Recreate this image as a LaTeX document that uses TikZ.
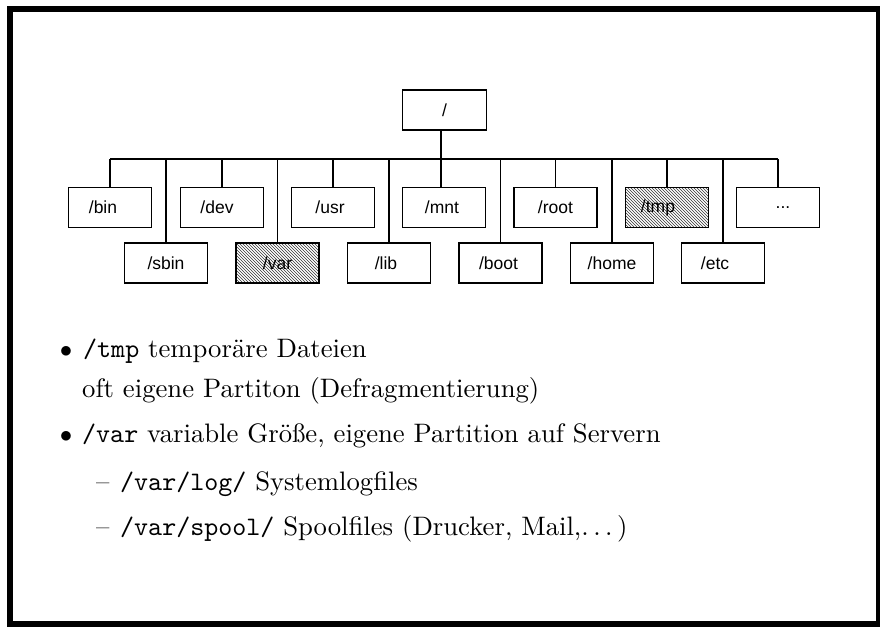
\documentclass[tikz,border=0pt]{standalone}
\usepackage{fontspec}
% 10pt design size of Latin Modern, scaled up
\setmainfont{lmroman10}[Extension=.otf, UprightFont=*-regular, BoldFont=*-bold,
  ItalicFont=*-italic, BoldItalicFont=*-bolditalic]
\setmonofont{lmmono10}[Extension=.otf, UprightFont=*-regular, ItalicFont=*-italic]
\newfontfamily\boxfont{Liberation Sans}
\usetikzlibrary{patterns}
% shift a box label sideways without changing its width
\newcommand\lblshift[2]{\hspace*{#1pt}#2\hspace*{-#1pt}}
% spaced ellipsis as in classic text mode
\newcommand\spaceddots{.\kern0.167em.\kern0.167em.\kern0.167em}
\begin{document}
\begin{tikzpicture}[x=1pt,y=-1pt,
  dirbox/.style={draw, line width=1.6pt, minimum width=83pt, minimum height=40pt,
    inner sep=0pt, font=\boxfont\fontsize{17.5}{20}\selectfont},
  hatched/.style={pattern=north west lines, pattern color=black!80},
  link/.style={line width=1.3pt},
  slidetext/.style={inner sep=0pt, anchor=base west, font=\fontsize{26.7}{32}\selectfont},
  marker/.style={inner sep=0pt, anchor=base, font=\fontsize{26.7}{32}\selectfont}]
\useasboundingbox (0,0) rectangle (880,628);

% frame
\draw[line width=6pt] (10,9) rectangle (879,623.5);

% root
\node[dirbox, minimum width=84pt] (root) at (444.5,110) {/};

% first row
\node[dirbox] (bin)  at (110,207.5)   {\lblshift{-7}{/bin}};
\node[dirbox] (dev)  at (222,207.5)   {\lblshift{-5}{/dev}};
\node[dirbox] (usr)  at (333,207.5)   {\lblshift{-3}{/usr}};
\node[dirbox] (mnt)  at (444,207.5)   {\lblshift{-2}{/mnt}};
\node[dirbox] (rootdir) at (555.5,207.5) {/root};
\node[dirbox, hatched] (tmp) at (667,207.5) {\lblshift{-9}{/tmp}};
\node[dirbox] (more) at (778,207.5)   {\lblshift{5}{...}};

% second row
\node[dirbox] (sbin) at (166,263)   {/sbin};
\node[dirbox, hatched] (var) at (277.5,263) {/var};
\node[dirbox] (lib)  at (389,263)   {\lblshift{-3}{/lib}};
\node[dirbox] (boot) at (500.5,263) {\lblshift{-2}{/boot}};
\node[dirbox] (home) at (612,263)   {/home};
\node[dirbox] (etc)  at (723,263)   {\lblshift{-8}{/etc}};

% bus line
\coordinate (busL) at (110,159);
\coordinate (busR) at (778,159);
\draw[link] (busL) -- (busR);
\draw[link] ([xshift=-3.5pt]root.south) -- ([xshift=-3pt]mnt.north);
\foreach \n in {bin,dev,usr,rootdir,tmp,more,sbin,var,lib,boot,home,etc}
  \draw[link] (\n.north) -- (\n.north |- busL);

% text
\node[marker] (b1) at (66,357) {$\bullet$};
\node[slidetext] (t1) at (83,357) {\texttt{/tmp} temporäre Dateien};
\node[slidetext] (t2) at (82,397) {oft eigene Partiton (Defragmentierung)};
\node[marker] (b2) at (66,442) {$\bullet$};
\node[slidetext] (t3) at (82,442) {\texttt{/var} variable Größe, eigene Partition auf Servern};
\node[slidetext] (d1) at (96,490) {--};
\node[slidetext] (t4) at (120,490) {\texttt{/var/log/} Systemlogfiles};
\node[slidetext] (d2) at (96,535) {--};
\node[slidetext] (t5) at (120,535) {\texttt{/var/spool/} Spoolfiles (Drucker, Mail,\spaceddots)};
\end{tikzpicture}
\end{document}
